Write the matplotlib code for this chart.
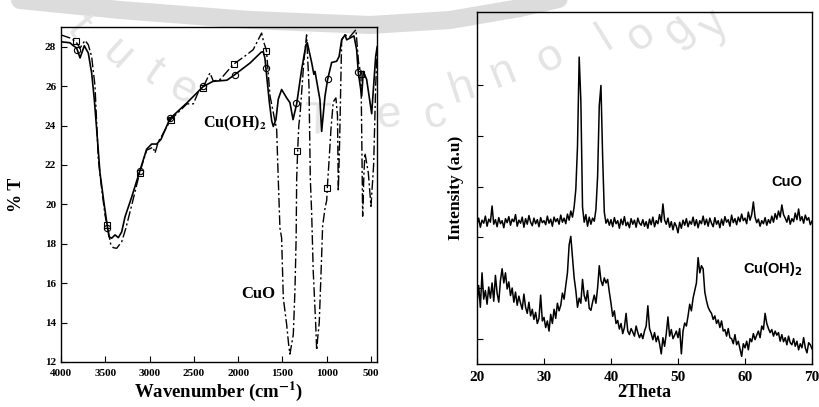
import matplotlib.pyplot as plt
from matplotlib.lines import Line2D
import numpy as np

# FTIR, Cu(OH)2 (solid line, circles)
cuoh_wn = [4000, 3900, 3860, 3823, 3785, 3760, 3737, 3692, 3654, 3624, 3597, 3560, 3511, 3477,
           3458, 3428, 3390, 3353, 3315, 3277, 3202, 3112, 3033, 2976, 2920, 2871, 2770, 2578,
           2397, 2285, 2127, 2047, 1866, 1740, 1716, 1697, 1686, 1648, 1621, 1603, 1573, 1547,
           1509, 1452, 1415, 1380, 1339, 1283, 1234, 1219, 1170, 1145, 1132, 1076, 1057, 1019,
           989, 944, 888, 860, 831, 793, 774, 692, 662, 643, 605, 587, 549, 492, 447, 430]
cuoh_t = [28.25, 28.2, 28.05, 27.93, 27.43, 27.75, 28.05, 27.68, 26.67, 25.33, 23.8, 21.6, 19.95, 18.9,
          18.36, 18.28, 18.45, 18.31, 18.6, 19.37, 20.37, 21.67, 22.8, 23.06, 23.06, 23.3, 24.35, 25.15,
          25.97, 26.24, 26.3, 26.55, 27.17, 27.72, 27.75, 27.4, 26.9, 25.2, 24.24, 23.95, 24.3, 25.33,
          25.83, 25.4, 25.16, 24.3, 25.1, 26.84, 28.1, 28.2, 27.2, 26.6, 26.75, 25.3, 23.7, 25.5,
          26.35, 27.2, 27.26, 27.5, 28.35, 28.6, 28.35, 28.55, 27.85, 26.7, 25.5, 26.75, 26.34, 24.6, 27.5, 28.0]
cuoh_mk_wn = [3815, 3480, 3112, 2770, 2400, 2040, 1690, 1345, 990, 645]
cuoh_mk_t = [27.85, 18.8, 21.7, 24.4, 26.0, 26.55, 26.9, 25.15, 26.35, 26.7]

# FTIR, CuO (dash-dot line, squares)
cuo_wn = [4000, 3898, 3834, 3785, 3729, 3692, 3654, 3616, 3579, 3541, 3503, 3477, 3440, 3410, 3371,
          3315, 3270, 3202, 3112, 3033, 2960, 2939, 2900, 2871, 2760, 2578, 2506, 2440, 2400, 2318,
          2280, 2200, 2055, 1900, 1830, 1735, 1715, 1680, 1640, 1565, 1547, 1528, 1509, 1490, 1452,
          1430, 1415, 1400, 1377, 1358, 1345, 1339, 1328, 1315, 1302, 1257, 1227, 1200, 1185, 1170,
          1152, 1125, 1113, 1100, 1084, 1076, 1057, 1046, 1019, 1000, 993, 975, 952, 926, 896, 878,
          869, 855, 831, 793, 740, 670, 640, 613, 605, 594, 580, 568, 545, 530, 500, 470, 447, 430]
cuo_t = [28.6, 28.44, 28.27, 27.93, 28.32, 28.1, 27.5, 26.0, 22.3, 20.8, 19.45, 18.9, 18.0, 17.8, 17.77,
         18.1, 18.75, 19.95, 21.6, 22.75, 22.9, 22.6, 23.2, 23.4, 24.3, 25.1, 25.1, 25.8, 25.9, 26.67,
         26.25, 26.35, 27.1, 27.6, 27.85, 28.69, 28.3, 27.8, 25.5, 23.8, 21.3, 18.8, 18.3, 15.25, 13.9,
         12.9, 12.4, 12.8, 13.4, 15.7, 18.3, 21.3, 22.7, 24.0, 24.5, 27.3, 28.6, 26.0, 21.3, 19.6,
         16.6, 14.0, 12.6, 13.3, 14.0, 15.0, 17.4, 18.9, 19.8, 20.2, 20.85, 22.1, 23.8, 25.2, 25.4, 24.5,
         20.65, 23.0, 28.35, 28.6, 28.5, 28.86, 27.2, 26.6, 23.8, 19.4, 21.5, 22.6, 22.0, 21.6, 19.9, 22.0, 26.0, 27.8]
cuo_mk_wn = [3830, 3475, 3112, 2760, 2400, 2050, 1680, 1330, 993, 615]
cuo_mk_t = [28.3, 18.95, 21.6, 24.3, 25.9, 27.1, 27.8, 22.7, 20.85, 26.6]

# XRD, 2theta from 20 to 70 in 0.25 steps
two_theta = np.linspace(20, 70, 201)
xrd_cuo = [
    2.25, 2.38, 2.20, 2.34, 2.28, 2.42, 2.22, 2.36, 2.30, 2.62, 2.26, 2.35, 2.21, 2.39, 2.27, 2.33, 2.19, 2.37, 2.29, 2.41,
    2.24, 2.36, 2.31, 2.45, 2.22, 2.34, 2.28, 2.40, 2.20, 2.37, 2.26, 2.43, 2.30, 2.23, 2.38, 2.27, 2.35, 2.21, 2.39, 2.29,
    2.33, 2.25, 2.42, 2.28, 2.36, 2.22, 2.40, 2.31, 2.37, 2.26, 2.44, 2.30, 2.38, 2.27, 2.46, 2.34, 2.52, 2.40, 2.60, 2.95,
    3.80, 5.56, 4.70, 2.60, 2.30, 2.45, 2.22, 2.40, 2.26, 2.38, 2.32, 2.55, 3.20, 4.60, 5.00, 3.60, 2.50, 2.28, 2.36, 2.24,
    2.35, 2.21, 2.39, 2.27, 2.33, 2.18, 2.36, 2.25, 2.41, 2.23, 2.30, 2.19, 2.37, 2.26, 2.34, 2.20, 2.38, 2.28, 2.24, 2.35,
    2.22, 2.31, 2.18, 2.36, 2.25, 2.40, 2.21, 2.33, 2.27, 2.45, 2.30, 2.66, 2.34, 2.26, 2.38, 2.20, 2.31, 2.15, 2.29, 2.22,
    2.09, 2.30, 2.18, 2.34, 2.24, 2.37, 2.21, 2.32, 2.26, 2.40, 2.23, 2.35, 2.19, 2.33, 2.27, 2.42, 2.25, 2.36, 2.22, 2.38,
    2.28, 2.21, 2.39, 2.26, 2.33, 2.19, 2.36, 2.24, 2.41, 2.30, 2.35, 2.22, 2.44, 2.29, 2.37, 2.25, 2.40, 2.31, 2.46, 2.33,
    2.38, 2.27, 2.50, 2.34, 2.45, 2.70, 2.40, 2.29, 2.36, 2.22, 2.33, 2.27, 2.39, 2.24, 2.35, 2.28, 2.42, 2.30, 2.47, 2.36,
    2.52, 2.40, 2.64, 2.45, 2.38, 2.30, 2.43, 2.26, 2.37, 2.31, 2.48, 2.35, 2.56, 2.33, 2.41, 2.28, 2.44, 2.34, 2.39, 2.25,
    2.32]
xrd_cuoh = [
    0.70, 1.05, 0.62, 1.30, 0.78, 0.95, 0.68, 1.02, 0.80, 1.10, 0.74, 1.25, 0.90, 0.72, 1.15, 1.38, 1.10, 1.30, 0.98, 1.12,
    0.85, 1.00, 0.72, 0.92, 0.66, 0.84, 0.70, 0.58, 0.88, 0.62, 0.50, 0.72, 0.45, 0.58, 0.38, 0.52, 0.30, 0.40, 0.86, 0.35,
    0.42, 0.22, 0.35, 0.15, 0.48, 0.30, 0.58, 0.40, 0.70, 0.55, 0.66, 0.90, 0.78, 1.05, 1.30, 1.85, 2.02, 1.62, 1.20, 0.95,
    0.62, 0.80, 0.70, 1.17, 0.85, 0.74, 0.95, 0.60, 0.56, 0.72, 0.86, 0.70, 1.00, 1.44, 1.15, 1.05, 1.20, 1.10, 1.17, 0.92,
    0.70, 0.44, 0.55, 0.30, 0.36, 0.19, 0.30, 0.10, 0.22, 0.50, 0.15, 0.08, 0.20, 0.13, 0.05, 0.25, 0.12, 0.02, 0.10, 0.00,
    0.15, 0.25, 0.65, 0.20, 0.10, -0.02, 0.12, -0.06, 0.05, -0.10, -0.30, 0.02, -0.15, 0.10, 0.43, 0.05, 0.18, 0.00, 0.07, 0.15,
    0.02, 0.20, -0.30, 0.15, 0.31, 0.25, 0.45, 0.68, 0.55, 0.80, 0.95, 1.10, 1.60, 1.30, 1.44, 1.38, 0.92, 0.75, 0.62, 0.55,
    0.50, 0.38, 0.45, 0.30, 0.37, 0.22, 0.35, 0.15, 0.18, 0.05, 0.20, 0.02, 0.00, -0.10, 0.08, -0.12, -0.05, -0.20, -0.35, -0.10,
    -0.18, -0.05, -0.22, 0.00, -0.06, 0.10, -0.02, 0.07, 0.15, 0.02, 0.25, 0.18, 0.50, 0.30, 0.20, 0.12, 0.18, 0.05, 0.15, 0.07,
    0.12, -0.05, 0.08, -0.06, 0.02, -0.12, 0.05, -0.08, -0.12, 0.00, -0.15, -0.05, -0.22, -0.10, -0.18, 0.02, -0.18, -0.28, -0.08, -0.12,
    -0.20]

SERIF = 'Liberation Serif'
SANS = 'Liberation Sans'
W, H = 819, 407

fig = plt.figure(figsize=(W / 100, H / 100), dpi=100)

# faint watermark behind the axes
band_x = [20, 120, 250, 370, 450, 520, 580]
band_y = [0, 10, 20, 25, 20, 8, -6]
fig.add_artist(Line2D([x / W for x in band_x], [1 - y / H for y in band_y], color='#dcdcdc',
                      lw=13, solid_capstyle='round', zorder=-2, transform=fig.transFigure))
wm_letters = ['t', 'u', 't', 'e', 'T', 'e', 'c', 'h', 'n', 'o', 'l', 'o', 'g', 'y']
wm_x = [78, 117, 153, 182, 318, 388, 435, 462, 503, 550, 605, 640, 678, 714]
wm_y = [26, 55, 72, 90, 122, 115, 115, 88, 73, 58, 38, 36, 30, 26]
wm_rot = [-50, -42, -35, -28, -2, 5, 12, 18, 22, 28, 32, 36, 40, 45]
for ch, x, y, r in zip(wm_letters, wm_x, wm_y, wm_rot):
    fig.text(x / W, 1 - y / H, ch, fontsize=32, family=SANS, color='#e4e4e4', rotation=r,
             ha='center', va='center', zorder=-1)

# ---- left: FTIR ----
ax1 = fig.add_axes([61 / W, 1 - 362 / H, 316 / W, 335 / H])
ax1.patch.set_alpha(0)
ax1.plot(cuoh_wn, cuoh_t, color='black', lw=1.2)
ax1.plot(cuo_wn, cuo_t, color='black', lw=1.0, linestyle=(0, (7, 2, 1.5, 2)))
ax1.plot(cuoh_mk_wn, cuoh_mk_t, linestyle='none', marker='o', ms=4.5, mfc='none', mec='black', mew=0.8)
ax1.plot(cuo_mk_wn, cuo_mk_t, linestyle='none', marker='s', ms=4.5, mfc='none', mec='black', mew=0.8)
ax1.set_xlim(4000, 432)
ax1.set_ylim(12, 29)
ax1.set_xticks(range(4000, 499, -500))
ax1.set_yticks(range(12, 29, 2))
ax1.tick_params(direction='in', length=4, width=0.8, labelsize=8)
ax1.tick_params(axis='x', pad=5)
for lab in ax1.get_xticklabels() + ax1.get_yticklabels():
    lab.set_family(SERIF)
    lab.set_fontweight('bold')
ax1.set_xlabel('Wavenumber (cm$^{\\mathbf{-1}}$)', family=SERIF, fontweight='bold', fontsize=13.5,
               math_fontfamily='stix', labelpad=1)
ax1.set_ylabel('% T', family=SERIF, fontweight='bold', fontsize=13, labelpad=14)
ax1.text(2400, 24.1, 'Cu(OH)$_\\mathbf{2}$', family=SERIF, fontweight='bold', fontsize=11.5,
         math_fontfamily='stix', va='center', ha='left')
ax1.text(1970, 15.45, 'CuO', family=SERIF, fontweight='bold', fontsize=12, va='center', ha='left')
for s in ax1.spines.values():
    s.set_linewidth(1.0)

# ---- right: XRD ----
ax2 = fig.add_axes([477 / W, 1 - 364 / H, 335 / W, 352 / H])
ax2.patch.set_alpha(0)
ax2.plot(two_theta, xrd_cuo, color='black', lw=1.1)
ax2.plot(two_theta, xrd_cuoh, color='black', lw=1.1)
ax2.set_xlim(20, 70)
ax2.set_ylim(-0.5, 6.45)
ax2.set_xticks(range(20, 71, 10))
ax2.set_yticks(range(0, 6))
ax2.set_yticklabels([])
ax2.tick_params(direction='in', length=4, width=0.8, labelsize=11)
ax2.tick_params(axis='x', pad=5)
for lab in ax2.get_xticklabels():
    lab.set_family(SERIF)
    lab.set_fontweight('bold')
ax2.set_xlabel('2Theta', family=SERIF, fontweight='bold', fontsize=13, labelpad=0)
ax2.set_ylabel('Intensity (a.u)', family=SERIF, fontweight='bold', fontsize=12.5, labelpad=6)
ax2.text(68.6, 3.1, 'CuO', family=SANS, fontweight='bold', fontsize=10.5, ha='right', va='center')
ax2.text(68.6, 1.38, 'Cu(OH)$_\\mathbf{2}$', family=SANS, fontweight='bold', fontsize=10.5,
         math_fontfamily='dejavusans', ha='right', va='center')
for s in ax2.spines.values():
    s.set_linewidth(1.0)

fig.savefig('out.png', dpi=100)
